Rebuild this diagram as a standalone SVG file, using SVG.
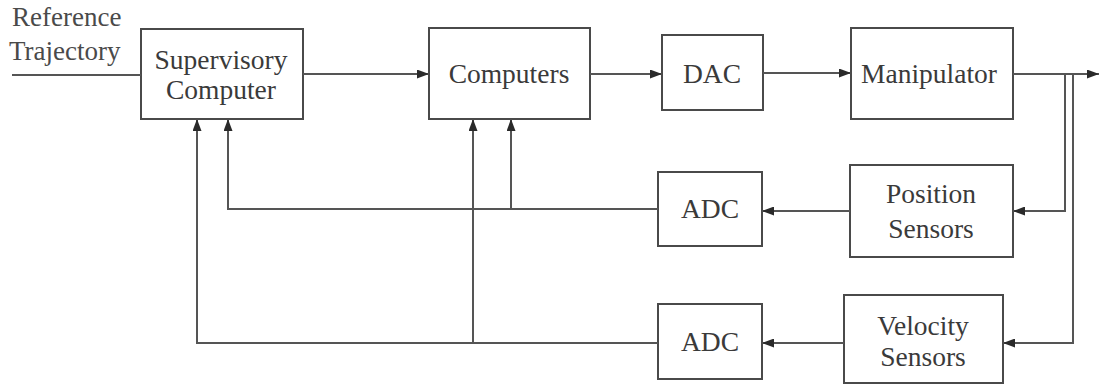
<svg xmlns="http://www.w3.org/2000/svg" width="1100" height="385" viewBox="0 0 1100 385">
  <style>
    .box { fill: #ffffff; stroke: #4a4a4a; stroke-width: 2; }
    .lbl { font-family: "Liberation Serif", "Times New Roman", serif; font-size: 27.5px; fill: #3a3a3a; text-anchor: middle; }
    .side { font-family: "Liberation Serif", "Times New Roman", serif; font-size: 27px; fill: #4a4a4a; }
    .wire { fill: none; stroke: #555555; stroke-width: 2; }
  </style>
  <defs>
    <marker id="arr" viewBox="0 0 12 9" refX="12" refY="4.5" markerWidth="12" markerHeight="9" markerUnits="userSpaceOnUse" orient="auto">
      <path d="M0,0 L12,4.5 L0,9 Z" fill="#2a2a2a"/>
    </marker>
  </defs>
  <rect width="1100" height="385" fill="#ffffff"/>

  <!-- input label -->
  <g id="reference-input">
    <text class="side" x="12" y="26">Reference</text>
    <text class="side" x="9" y="60">Trajectory</text>
  </g>

  <g id="supervisory">
    <rect class="box" x="141" y="29" width="162" height="90"/>
    <text class="lbl" x="221" y="69">Supervisory</text>
    <text class="lbl" x="221" y="99">Computer</text>
  </g>
  <g id="computers">
    <rect class="box" x="429" y="28" width="161" height="91"/>
    <text class="lbl" x="509" y="83">Computers</text>
  </g>
  <g id="dac">
    <rect class="box" x="662" y="35" width="101" height="75"/>
    <text class="lbl" x="712" y="83">DAC</text>
  </g>
  <g id="manipulator">
    <rect class="box" x="851" y="28" width="162" height="91"/>
    <text class="lbl" x="929" y="83">Manipulator</text>
  </g>
  <g id="position-sensors">
    <rect class="box" x="850" y="165" width="163" height="92"/>
    <text class="lbl" x="931" y="203">Position</text>
    <text class="lbl" x="931" y="238">Sensors</text>
  </g>
  <g id="adc-position">
    <rect class="box" x="658" y="172" width="104" height="74"/>
    <text class="lbl" x="710" y="218">ADC</text>
  </g>
  <g id="velocity-sensors">
    <rect class="box" x="844" y="295" width="159" height="88"/>
    <text class="lbl" x="923" y="335">Velocity</text>
    <text class="lbl" x="923" y="366">Sensors</text>
  </g>
  <g id="adc-velocity">
    <rect class="box" x="658" y="304" width="104" height="75"/>
    <text class="lbl" x="710" y="351">ADC</text>
  </g>

  <g id="connectors">
    <!-- forward path -->
    <line class="wire" x1="12" y1="75" x2="141" y2="75"/>
    <line class="wire" x1="303" y1="74" x2="429" y2="74" marker-end="url(#arr)"/>
    <line class="wire" x1="590" y1="74" x2="662" y2="74" marker-end="url(#arr)"/>
    <line class="wire" x1="763" y1="73" x2="851" y2="73" marker-end="url(#arr)"/>
    <line class="wire" x1="1013" y1="74" x2="1099" y2="74" marker-end="url(#arr)"/>
    <!-- sensor taps -->
    <polyline class="wire" points="1065,74 1065,211 1013,211" marker-end="url(#arr)"/>
    <polyline class="wire" points="1073,74 1073,343 1003,343" marker-end="url(#arr)"/>
    <!-- sensors to converters -->
    <line class="wire" x1="850" y1="211" x2="762" y2="211" marker-end="url(#arr)"/>
    <line class="wire" x1="844" y1="343" x2="762" y2="343" marker-end="url(#arr)"/>
    <!-- position feedback -->
    <polyline class="wire" points="658,209 228,209 228,119" marker-end="url(#arr)"/>
    <line class="wire" x1="511" y1="209" x2="511" y2="119" marker-end="url(#arr)"/>
    <!-- velocity feedback -->
    <polyline class="wire" points="658,343 197,343 197,119" marker-end="url(#arr)"/>
    <line class="wire" x1="473" y1="343" x2="473" y2="119" marker-end="url(#arr)"/>
  </g>
</svg>
